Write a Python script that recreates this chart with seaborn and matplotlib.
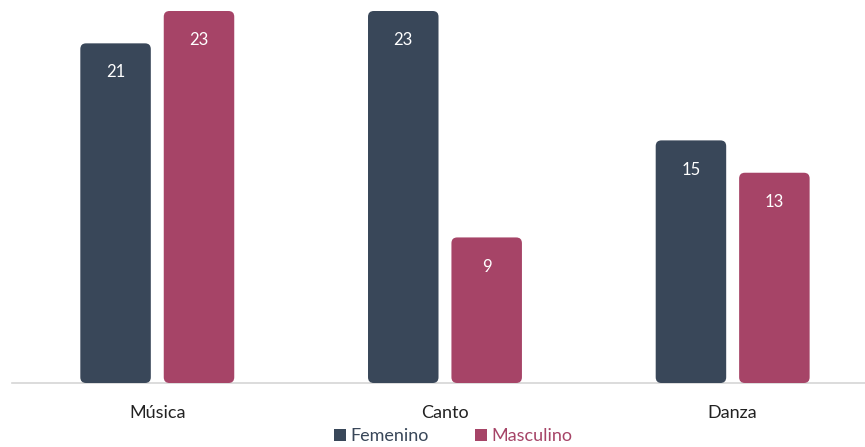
import matplotlib
matplotlib.use("Agg")
import matplotlib.pyplot as plt
import seaborn as sns
import pandas as pd
from matplotlib.patches import FancyBboxPatch, Patch

# data
categorias = ["Música", "Canto", "Danza"]
femenino = [21, 23, 15]
masculino = [23, 9, 13]
generos = ["Femenino", "Masculino"]
colores = ["#394759", "#a64467"]

df = pd.DataFrame({
    "categoria": categorias * 2,
    "genero": [generos[0]] * 3 + [generos[1]] * 3,
    "valor": femenino + masculino,
})

sns.set_style("white")
plt.rcParams["font.family"] = ["Lato", "DejaVu Sans"]

fig = plt.figure(figsize=(8.65, 4.47), dpi=100)
ax = fig.add_axes([12 / 865, 1 - 383 / 447, 1 - 12 / 865, 383 / 447])

sns.barplot(data=df, x="categoria", y="valor", hue="genero", palette=colores,
            width=0.58, gap=0.155, legend=False, ax=ax, saturation=1)

ax.set_xlim(-0.505, 2.46)
ax.set_ylim(0, 23.68)

# swap plain bars for rounded ones
bars = list(ax.patches)
for b in bars:
    x, y = b.get_x(), b.get_y()
    w, h = b.get_width(), b.get_height()
    if h <= 0:
        continue
    col = b.get_facecolor()
    b.remove()
    r = FancyBboxPatch((x, y), w, h, boxstyle="round,pad=0,rounding_size=0.02",
                       mutation_aspect=17.8, facecolor=col, edgecolor="none", zorder=3)
    ax.add_patch(r)
    ax.text(x + w / 2, h - 1.8, f"{int(round(h))}", ha="center", va="center",
            color="white", fontsize=12, zorder=4)

sns.despine(ax=ax, left=True, top=True, right=True)
ax.spines["bottom"].set_color("#d6d6d6")
ax.spines["bottom"].set_linewidth(1.2)
ax.set_yticks([])
ax.set_xlabel("")
ax.set_ylabel("")
ax.tick_params(axis="x", length=0, pad=16, labelsize=13, labelcolor="#222222")

handles = [Patch(facecolor=c, edgecolor="none") for c in colores]
leg = fig.legend(handles, generos, loc="lower center", bbox_to_anchor=(0.524, -0.03),
                 ncol=2, frameon=False, fontsize=13, handlelength=0.65, handleheight=0.65,
                 handletextpad=0.25, columnspacing=2.6)
for t, c in zip(leg.get_texts(), colores):
    t.set_color(c)

fig.savefig("out.png", dpi=100)
